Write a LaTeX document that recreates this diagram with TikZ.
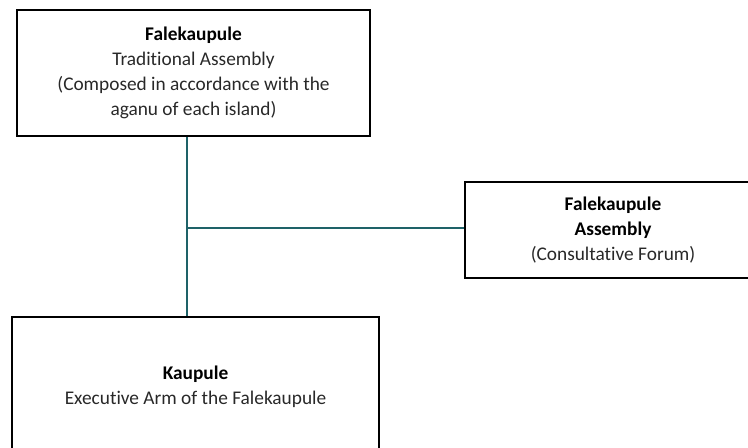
\documentclass[tikz,border=0pt]{standalone}
\usepackage{fontspec}
\setmainfont[Ligatures=NoCommon]{Carlito}
\definecolor{linkteal}{RGB}{30,98,104}
\definecolor{txtgray}{RGB}{40,40,40}
\tikzset{
  orgbox/.style={draw=black, line width=1.4pt, rectangle, align=center, inner sep=0pt,
    font=\fontsize{14.5}{18.6}\selectfont, text=txtgray},
  link/.style={draw=linkteal, line width=1.4pt}
}
\begin{document}
\begin{tikzpicture}[x=0.75pt,y=-0.75pt]
\useasboundingbox (0,0) rectangle (748,448);
\clip (0,0) rectangle (748,448);
\node[orgbox, minimum width=353*0.75pt, minimum height=126*0.75pt] (trad) at (193.5,73)
  {\textbf{\color{black}Falekaupule}\\Traditional Assembly\\(Composed in accordance with the\\aganu of each island)};
\node[orgbox, minimum width=296*0.75pt, minimum height=96*0.75pt] (assem) at (613,230)
  {\textbf{\color{black}Falekaupule}\\\textbf{\color{black}Assembly}\\(Consultative Forum)};
\node[orgbox, minimum width=367*0.75pt, minimum height=139*0.75pt] (kaup) at (195.5,386.5)
  {\textbf{\color{black}Kaupule}\\Executive Arm of the Falekaupule};
\coordinate (j) at (187,228);
\draw[link] (trad.south -| j) -- (kaup.north -| j);
\draw[link] (j) -- (j -| assem.west);
\end{tikzpicture}
\end{document}
